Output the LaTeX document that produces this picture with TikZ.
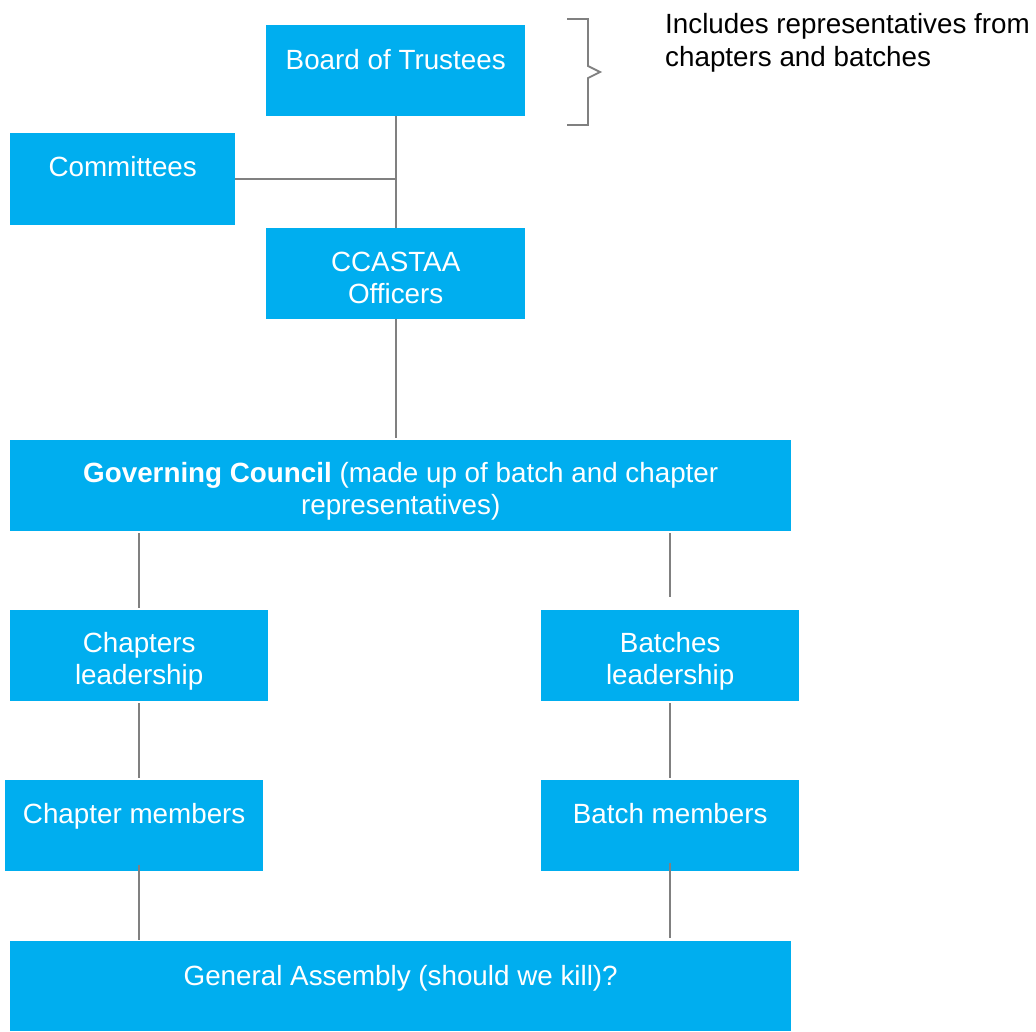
\documentclass[tikz,border=0pt]{standalone}
\usepackage{fontspec}
\setmainfont{Liberation Sans}
\definecolor{boxcyan}{HTML}{00AEEF}
\definecolor{linegray}{HTML}{808080}
\begin{document}
\begin{tikzpicture}[x=1pt,y=-1pt,
  box/.style={fill=boxcyan,draw=none,inner sep=0,anchor=north west},
  txt/.style={text=white,inner sep=0,anchor=north,align=center,font=\fontsize{27.8}{32}\selectfont},
  conn/.style={draw=linegray,line width=1.8pt},
  note/.style={text=black,inner sep=0,anchor=north west,align=left,font=\fontsize{27.8}{33}\selectfont}]
\useasboundingbox (0,0) rectangle (1036,1031);
% boxes
\node[box,minimum width=259pt,minimum height=91pt] (bot) at (266,25) {};
\node[box,minimum width=225pt,minimum height=92pt] (com) at (10,133) {};
\node[box,minimum width=259pt,minimum height=91pt] (cca) at (266,228) {};
\node[box,minimum width=781pt,minimum height=91pt] (gc) at (10,440) {};
\node[box,minimum width=258pt,minimum height=91pt] (cl) at (10,610) {};
\node[box,minimum width=258pt,minimum height=91pt] (bl) at (541,610) {};
\node[box,minimum width=258pt,minimum height=91pt] (cm) at (5,780) {};
\node[box,minimum width=258pt,minimum height=91pt] (bm) at (541,780) {};
\node[box,minimum width=781pt,minimum height=90pt] (ga) at (10,941) {};
% texts
\node[txt] (botT) at ([yshift=-24pt]bot.north) {Board of Trustees};
\node[txt] (comT) at ([yshift=-23pt]com.north) {Committees};
\node[txt] (ccaT) at ([yshift=-24pt]cca.north) {CCASTAA\\Officers};
\node[txt] (gcT) at ([yshift=-22pt]gc.north) {\textbf{Governing Council} (made up of batch and chapter\\representatives)};
\node[txt] (clT) at ([yshift=-22pt]cl.north) {Chapters\\leadership};
\node[txt] (blT) at ([yshift=-22pt]bl.north) {Batches\\leadership};
\node[txt] (cmT) at ([yshift=-23pt]cm.north) {Chapter members};
\node[txt] (bmT) at ([yshift=-23pt]bm.north) {Batch members};
\node[txt] (gaT) at ([yshift=-24pt]ga.north) {General Assembly (should we kill)?};
\node[note] (noteT) at (665,13) {Includes representatives from\\chapters and batches};
% brace
\draw[draw=linegray,line width=1.8pt] (567,19) -- (588,19) -- (588,66) -- (600,72) -- (588,78) -- (588,125) -- (567,125);
% connectors
\draw[conn] (bot.south) -- (cca.north);
\draw[conn] (com.east) -- (bot.south |- com.east);
\draw[conn] (cca.south) -- ([yshift=2pt]cca.south |- gc.north);
\draw[conn] ([yshift=-2pt]gc.south -| cl.north) -- ([yshift=2pt]cl.north);
\draw[conn] ([yshift=-2pt]gc.south -| bl.north) -- ([yshift=13pt]bl.north);
\draw[conn] ([yshift=-2pt]cl.south) -- ([yshift=2pt]cl.south |- cm.north);
\draw[conn] ([yshift=-2pt]bl.south) -- ([yshift=2pt]bm.north);
\draw[conn] ([yshift=6pt]cl.south |- cm.south) -- ([yshift=1pt]cl.south |- ga.north);
\draw[conn] ([yshift=8pt]bm.south) -- ([yshift=3pt]bm.south |- ga.north);
\end{tikzpicture}
\end{document}
